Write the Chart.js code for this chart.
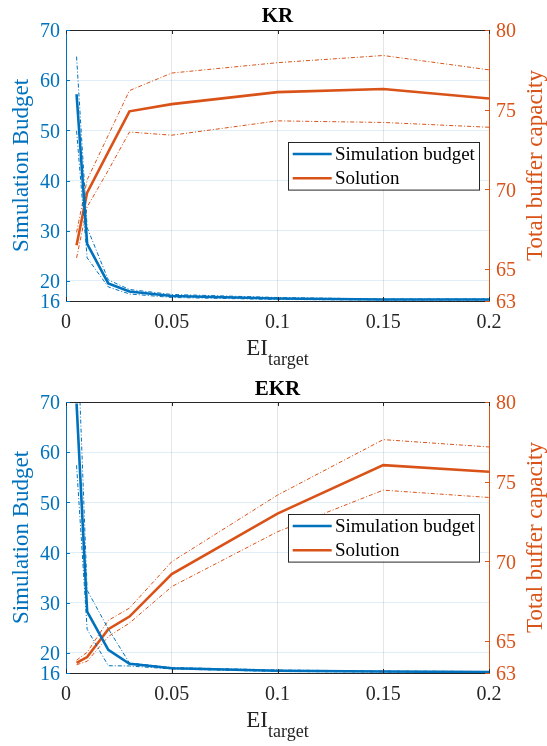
<!DOCTYPE html>
<html>
<head>
<meta charset="utf-8">
<script src="https://cdn.jsdelivr.net/npm/chart.js@4.4.1/dist/chart.umd.min.js"></script>
<style>
  html, body { margin: 0; padding: 0; background: #fff; }
  .panel { width: 547px; height: 373px; position: relative; }
  canvas { display: block; }
</style>
</head>
<body>
<div class="panel"><canvas id="kr" width="547" height="373"></canvas></div>
<div class="panel"><canvas id="ekr" width="547" height="373"></canvas></div>
<script>
// EI target levels (x values shared by every series)
const eiTarget = [0.005, 0.01, 0.02, 0.03, 0.05, 0.1, 0.15, 0.2];

// KR: simulation budget (mean and band) and total buffer capacity of the solution
const krBudget      = [57.2, 27.4, 19.5, 17.9, 17.0, 16.5, 16.3, 16.3];
const krBudgetHi    = [64.7, 30.6, 20.2, 18.3, 17.3, 16.7, 16.4, 16.4];
const krBudgetLo    = [49.9, 24.6, 18.8, 17.4, 16.7, 16.3, 16.2, 16.2];
const krSolution    = [66.5, 69.8, 72.35, 74.9, 75.35, 76.1, 76.3, 75.7];
const krSolutionHi  = [67.3, 70.6, 73.4, 76.2, 77.3, 77.95, 78.4, 77.5];
const krSolutionLo  = [65.7, 68.9, 71.2, 73.6, 73.4, 74.3, 74.2, 73.9];

// EKR: same quantities
const ekrBudget     = [69.7, 28.25, 20.6, 17.85, 16.95, 16.45, 16.3, 16.2];
const ekrBudgetHi   = [88.0, 32.5, 24.8, 18.0, 17.1, 16.6, 16.4, 16.3];
const ekrBudgetLo   = [57.4, 24.7, 17.45, 17.4, 16.8, 16.3, 16.2, 16.1];
const ekrSolution   = [63.63, 64.0, 65.75, 66.54, 69.21, 73.0, 76.04, 75.62];
const ekrSolutionHi = [63.8, 64.3, 66.3, 67.07, 69.98, 74.16, 77.64, 77.18];
const ekrSolutionLo = [63.52, 63.73, 65.29, 66.13, 68.42, 71.86, 74.47, 74.01];

// Axis ticks
const eiTicks       = [0, 0.05, 0.1, 0.15, 0.2];
const eiTickLabels  = ['0', '0.05', '0.1', '0.15', '0.2'];
const budgetTicks   = [16, 20, 30, 40, 50, 60, 70];
const capacityTicks = [63, 65, 70, 75, 80];

const seriesLabels = ['Simulation budget', 'Solution'];

const BLUE = '#0072BD';
const ORANGE = '#D95319';
const DARK = '#262626';
const SERIF = '"Liberation Serif", "Times New Roman", serif';

function pts(ys) { return eiTarget.map((x, i) => ({ x: x, y: ys[i] })); }

function meanLine(label, ys, color, axis) {
  return { label, data: pts(ys), yAxisID: axis, borderColor: color, backgroundColor: color,
           borderWidth: 2.6, pointRadius: 0, tension: 0, showInLegend: true };
}
function bandLine(ys, color, axis) {
  return { label: '', data: pts(ys), yAxisID: axis, borderColor: color, backgroundColor: color,
           borderWidth: 1, borderDash: [4, 2, 1, 2], pointRadius: 0, tension: 0, showInLegend: false };
}

// Draws the frame details, titles, subscripted x label and the boxed legend
const decorations = {
  id: 'decorations',
  afterDatasetsDraw(chart, args, opts) {
    const { ctx, chartArea: a, scales } = chart;
    ctx.save();
    // top frame line
    ctx.strokeStyle = DARK; ctx.lineWidth = 1;
    ctx.beginPath(); ctx.moveTo(a.left, a.top + 0.5); ctx.lineTo(a.right, a.top + 0.5); ctx.stroke();

    // inward tick marks
    const tl = 4;
    ctx.strokeStyle = DARK;
    scales.x.ticks.forEach(t => {
      const px = Math.round(scales.x.getPixelForValue(t.value)) + 0.5;
      ctx.beginPath();
      ctx.moveTo(px, a.bottom); ctx.lineTo(px, a.bottom - tl);
      ctx.moveTo(px, a.top); ctx.lineTo(px, a.top + tl);
      ctx.stroke();
    });
    ctx.strokeStyle = BLUE;
    scales.y.ticks.forEach(t => {
      const py = Math.round(scales.y.getPixelForValue(t.value)) + 0.5;
      ctx.beginPath(); ctx.moveTo(a.left, py); ctx.lineTo(a.left + tl, py); ctx.stroke();
    });
    ctx.strokeStyle = ORANGE;
    scales.y1.ticks.forEach(t => {
      const py = Math.round(scales.y1.getPixelForValue(t.value)) + 0.5;
      ctx.beginPath(); ctx.moveTo(a.right, py); ctx.lineTo(a.right - tl, py); ctx.stroke();
    });

    const cx = (a.left + a.right) / 2;
    const cy = (a.top + a.bottom) / 2;

    // title
    ctx.fillStyle = '#000';
    ctx.font = 'bold 21px ' + SERIF;
    ctx.textAlign = 'center'; ctx.textBaseline = 'alphabetic';
    ctx.fillText(opts.title, cx, 22);

    // y titles (both read bottom-to-top)
    ctx.font = '23px ' + SERIF;
    ctx.save();
    ctx.translate(28, cy); ctx.rotate(-Math.PI / 2);
    ctx.fillStyle = BLUE; ctx.fillText('Simulation Budget', 0, 0);
    ctx.restore();
    ctx.save();
    ctx.translate(542, cy); ctx.rotate(-Math.PI / 2);
    ctx.fillStyle = ORANGE; ctx.fillText('Total buffer capacity', 0, 0);
    ctx.restore();

    // x title with subscript
    ctx.fillStyle = DARK;
    ctx.textAlign = 'left';
    ctx.font = '23px ' + SERIF;
    const wMain = ctx.measureText('EI').width;
    ctx.font = '18px ' + SERIF;
    const wSub = ctx.measureText('target').width;
    const x0 = cx - (wMain + wSub) / 2;
    ctx.font = '23px ' + SERIF;
    ctx.fillText('EI', x0, a.bottom + 53.5);
    ctx.font = '18px ' + SERIF;
    ctx.fillText('target', x0 + wMain, a.bottom + 63.5);

    // legend box
    const bx = a.left + 222, by = a.top + 111.7, bw = 191, bh = 47.6;
    ctx.fillStyle = '#fff';
    ctx.fillRect(bx, by, bw, bh);
    ctx.strokeStyle = DARK; ctx.lineWidth = 1;
    ctx.strokeRect(Math.round(bx) + 0.5, Math.round(by) + 0.5, bw, bh);
    const items = chart.data.datasets.filter(d => d.showInLegend);
    ctx.font = '19px ' + SERIF;
    ctx.textBaseline = 'middle';
    items.forEach((d, i) => {
      const ly = by + 12.3 + i * 24.3;
      ctx.strokeStyle = d.borderColor; ctx.lineWidth = 2.6;
      ctx.beginPath(); ctx.moveTo(bx + 4.7, ly); ctx.lineTo(bx + 43.7, ly); ctx.stroke();
      ctx.fillStyle = '#000';
      ctx.fillText(d.label, bx + 47, ly + 1);
    });
    ctx.restore();
  }
};

function makeChart(id, title, b, bHi, bLo, s, sHi, sLo, padTop, xHeight) {
  return new Chart(document.getElementById(id), {
    type: 'line',
    data: {
      datasets: [
        bandLine(bHi, BLUE, 'y'),
        bandLine(bLo, BLUE, 'y'),
        meanLine(seriesLabels[0], b, BLUE, 'y'),
        bandLine(sHi, ORANGE, 'y1'),
        bandLine(sLo, ORANGE, 'y1'),
        meanLine(seriesLabels[1], s, ORANGE, 'y1')
      ]
    },
    options: {
      responsive: false,
      devicePixelRatio: 1,
      animation: false,
      events: [],
      layout: { padding: { top: padTop, left: 0, right: 0, bottom: 0 } },
      plugins: {
        legend: { display: false },
        title: { display: false },
        tooltip: { enabled: false },
        decorations: { title: title }
      },
      scales: {
        x: {
          type: 'linear', min: 0, max: 0.2,
          afterBuildTicks: sc => { sc.ticks = eiTicks.map(v => ({ value: v })); },
          afterFit: sc => { sc.height = xHeight; },
          grid: { color: 'rgba(38,38,38,0.12)', drawTicks: false },
          border: { color: DARK, width: 1 },
          ticks: {
            padding: 10, color: DARK, maxRotation: 0, autoSkip: false,
            font: { family: SERIF, size: 20 },
            callback: (v) => eiTickLabels[eiTicks.indexOf(v)]
          }
        },
        y: {
          type: 'linear', position: 'left', min: 16, max: 70,
          afterBuildTicks: sc => { sc.ticks = budgetTicks.map(v => ({ value: v })); },
          afterFit: sc => { sc.width = 66; },
          grid: { color: 'rgba(0,114,189,0.12)', drawTicks: false },
          border: { color: BLUE, width: 1 },
          ticks: { padding: 6, labelOffset: 2, color: BLUE, autoSkip: false, font: { family: SERIF, size: 20 } }
        },
        y1: {
          type: 'linear', position: 'right', min: 63, max: 80,
          afterBuildTicks: sc => { sc.ticks = capacityTicks.map(v => ({ value: v })); },
          afterFit: sc => { sc.width = 58; },
          grid: { drawOnChartArea: false, drawTicks: false },
          border: { color: ORANGE, width: 1 },
          ticks: { padding: 7, labelOffset: 2, color: ORANGE, autoSkip: false, font: { family: SERIF, size: 20 } }
        }
      }
    },
    plugins: [decorations]
  });
}

makeChart('kr', 'KR', krBudget, krBudgetHi, krBudgetLo, krSolution, krSolutionHi, krSolutionLo, 30, 72);
makeChart('ekr', 'EKR', ekrBudget, ekrBudgetHi, ekrBudgetLo, ekrSolution, ekrSolutionHi, ekrSolutionLo, 29, 73);
</script>
</body>
</html>
